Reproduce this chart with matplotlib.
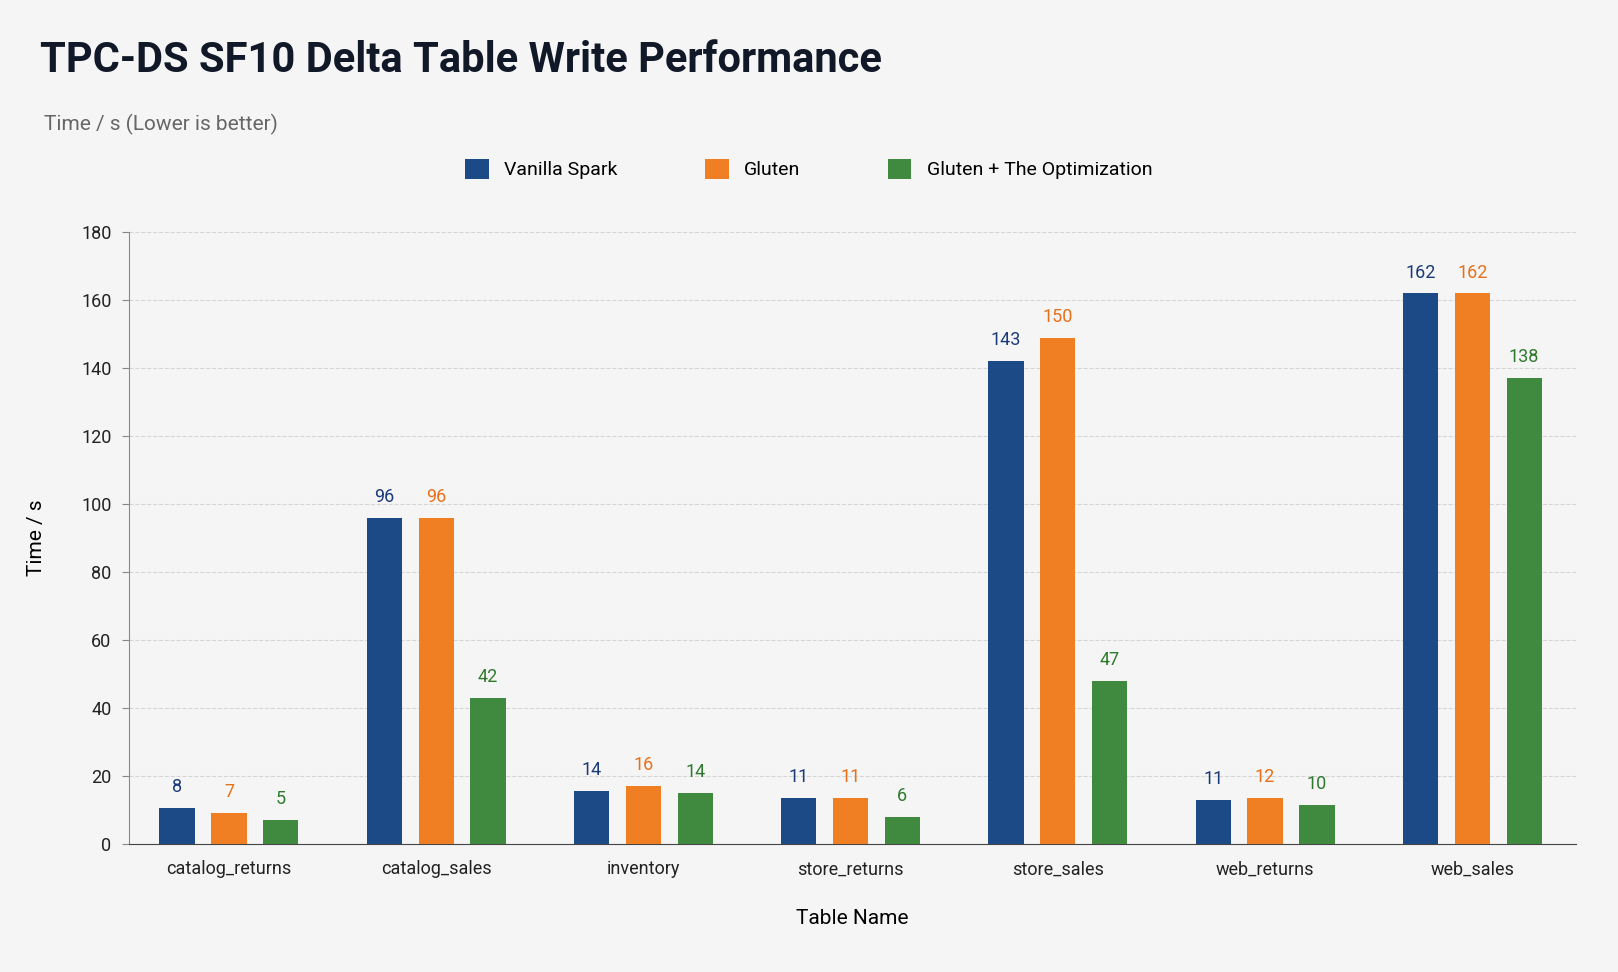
import numpy as np
import matplotlib.pyplot as plt

plt.rcParams['font.family'] = ['Roboto', 'DejaVu Sans']

tables = ["catalog_returns", "catalog_sales", "inventory", "store_returns",
          "store_sales", "web_returns", "web_sales"]
series = ["Vanilla Spark", "Gluten", "Gluten + The Optimization"]
# bar heights as drawn
vanilla = [10.5, 96, 15.5, 13.5, 142, 13, 162]
gluten = [9, 96, 17, 13.5, 149, 13.5, 162]
optimized = [7, 43, 15, 8, 48, 11.5, 137]
# value labels as printed
vanilla_lbl = [8, 96, 14, 11, 143, 11, 162]
gluten_lbl = [7, 96, 16, 11, 150, 12, 162]
optimized_lbl = [5, 42, 14, 6, 47, 10, 138]

bar_colors = ["#1b4a87", "#ef7f22", "#3f8a3f"]
text_colors = ["#1b3a78", "#e8701a", "#2e7a2e"]
bg = "#f5f5f5"

fig = plt.figure(figsize=(16.18, 9.72), dpi=100, facecolor=bg)
ax = fig.add_axes([0.08, 0.132, 0.894, 0.629], facecolor=bg)

x = np.arange(len(tables))
offsets = [-0.25, 0, 0.25]
heights = [vanilla, gluten, optimized]
labels = [vanilla_lbl, gluten_lbl, optimized_lbl]
for i in range(3):
    ax.bar(x + offsets[i], heights[i], width=0.17, color=bar_colors[i], label=series[i], zorder=3)
    for xi, h, lb in zip(x + offsets[i], heights[i], labels[i]):
        ax.text(xi, h + 3.5, str(lb), ha="center", va="bottom", fontsize=13, color=text_colors[i])

ax.set_xlim(-0.48, 6.5)
ax.set_ylim(0, 180)
ax.set_yticks(range(0, 181, 20))
ax.set_xticks(x)
ax.set_xticklabels(tables)
ax.tick_params(axis="both", labelsize=13, colors="#222222", length=0, pad=12)
ax.tick_params(axis="y", length=5, color="#888888", pad=8)
ax.grid(axis="y", linestyle="--", color="#d5d5d5", linewidth=0.8, zorder=0)
for s in ["top", "right"]:
    ax.spines[s].set_visible(False)
ax.spines["left"].set_color("#888888")
ax.spines["bottom"].set_color("#444444")
ax.set_ylabel("Time / s", fontsize=15, labelpad=25)
ax.set_xlabel("Table Name", fontsize=15, labelpad=22)

fig.text(0.025, 0.938, "TPC-DS SF10 Delta Table Write Performance", fontsize=30,
         fontweight="bold", color="#111827", va="center")
fig.text(0.027, 0.872, "Time / s (Lower is better)", fontsize=15, color="#666666", va="center")
fig.legend(loc="center", bbox_to_anchor=(0.5, 0.826), ncol=3, frameon=False, fontsize=14,
           handlelength=1.2, handleheight=1.2, columnspacing=4.5)

fig.savefig("out.png", dpi=100, facecolor=bg)
